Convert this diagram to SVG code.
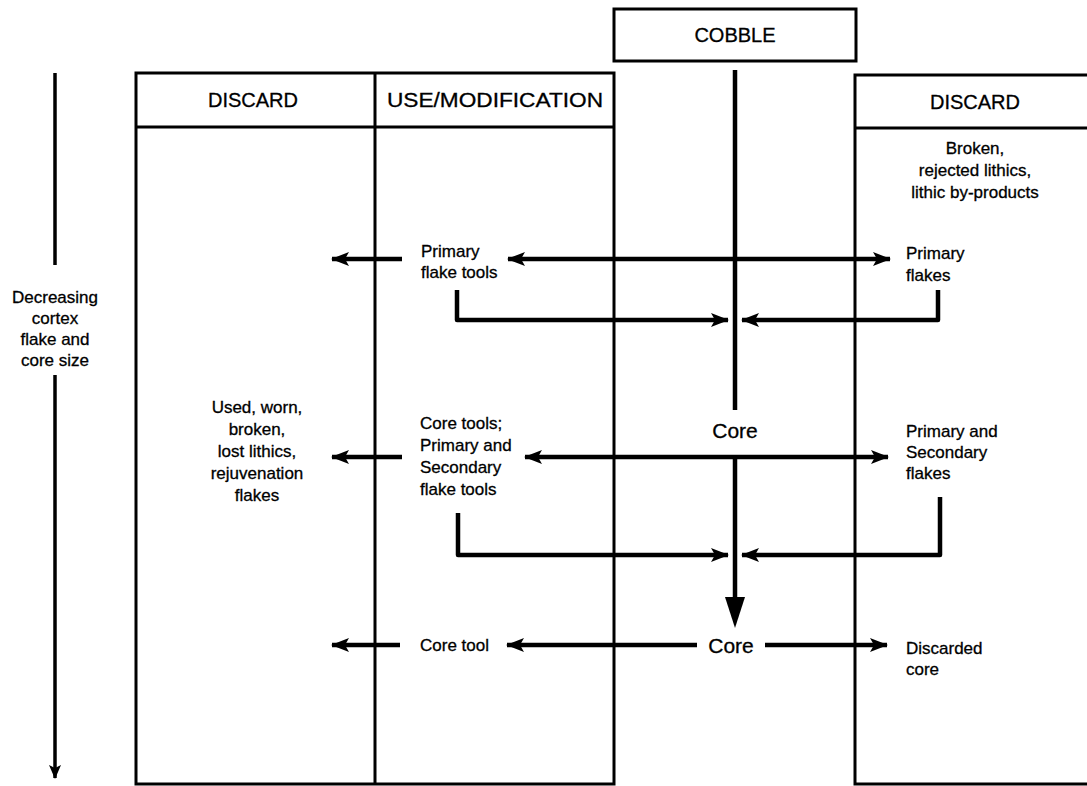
<svg xmlns="http://www.w3.org/2000/svg" width="1087" height="786" viewBox="0 0 1087 786">
<style>
.frame{fill:none;stroke:#000;stroke-width:3}
.ln{fill:none;stroke:#000;stroke-width:4.5;stroke-linejoin:round}
.t{font-family:"Liberation Sans",Arial,sans-serif;font-size:17px;fill:#000;stroke:#000;stroke-width:0.3}
.h{font-family:"Liberation Sans",Arial,sans-serif;font-size:20px;fill:#000;stroke:#000;stroke-width:0.3}
.c{font-family:"Liberation Sans",Arial,sans-serif;font-size:21px;fill:#000;stroke:#000;stroke-width:0.3}
.m{text-anchor:middle}
</style>
<defs>
<marker id="ah" markerUnits="userSpaceOnUse" markerWidth="18" markerHeight="14" refX="17" refY="7" orient="auto-start-reverse">
<path d="M0,0 L18,7 L0,14 L4,7 z" fill="#000"/>
</marker>
<marker id="ahs" markerUnits="userSpaceOnUse" markerWidth="14" markerHeight="12" refX="13" refY="6" orient="auto">
<path d="M0,0 L14,6 L0,12 L3,6 z" fill="#000"/>
</marker>
</defs>
<rect width="1087" height="786" fill="#fff"/>
<g id="cobble">
<rect class="frame" x="614" y="9" width="242" height="52"/>
<text class="h m" x="735" y="42">COBBLE</text>
</g>
<g id="left-table">
<rect class="frame" x="136" y="73" width="478" height="711"/>
<line class="frame" x1="136" y1="127" x2="614" y2="127"/>
<line class="frame" x1="375" y1="73" x2="375" y2="784"/>
<text class="h m" x="253" y="107">DISCARD</text>
<text class="h m" x="495" y="107" textLength="216" lengthAdjust="spacingAndGlyphs">USE/MODIFICATION</text>
</g>
<g id="right-table">
<path class="frame" d="M1090,75 H855 V784 H1090"/>
<line class="frame" x1="855" y1="128" x2="1090" y2="128"/>
<text class="h m" x="975" y="109">DISCARD</text>
<text class="t m" x="975" y="154">Broken,</text>
<text class="t m" x="975" y="176">rejected lithics,</text>
<text class="t m" x="975" y="198">lithic by-products</text>
</g>
<g id="axis">
<text class="t m" x="55" y="303">Decreasing</text>
<text class="t m" x="55" y="324">cortex</text>
<text class="t m" x="55" y="345">flake and</text>
<text class="t m" x="55" y="366">core size</text>
</g>
<g id="left-discard-text">
<text class="t m" x="257" y="413">Used, worn,</text>
<text class="t m" x="257" y="435">broken,</text>
<text class="t m" x="257" y="457">lost lithics,</text>
<text class="t m" x="257" y="479">rejuvenation</text>
<text class="t m" x="257" y="501">flakes</text>
</g>
<g id="primary-flake-tools">
<text class="t" x="421" y="257">Primary</text>
<text class="t" x="421" y="278">flake tools</text>
</g>
<g id="core-tools">
<text class="t" x="420" y="429">Core tools;</text>
<text class="t" x="420" y="451">Primary and</text>
<text class="t" x="420" y="473">Secondary</text>
<text class="t" x="420" y="495">flake tools</text>
</g>
<g id="core-tool">
<text class="t" x="420" y="651">Core tool</text>
</g>
<g id="primary-flakes">
<text class="t" x="906" y="259">Primary</text>
<text class="t" x="906" y="281">flakes</text>
</g>
<g id="primary-secondary-flakes">
<text class="t" x="906" y="437">Primary and</text>
<text class="t" x="906" y="458">Secondary</text>
<text class="t" x="906" y="479">flakes</text>
</g>
<g id="discarded-core">
<text class="t" x="906" y="654">Discarded</text>
<text class="t" x="906" y="675">core</text>
</g>
<g id="core1">
<text class="c m" x="735" y="438">Core</text>
</g>
<g id="core2">
<text class="c m" x="731" y="653">Core</text>
</g>
<g id="connectors">
<line class="ln" x1="55" y1="73" x2="55" y2="265" style="stroke-width:3.5"/>
<line class="ln" x1="55" y1="375" x2="55" y2="778" marker-end="url(#ahs)" style="stroke-width:3.5"/>
<line class="ln" x1="735" y1="70" x2="735" y2="410"/>
<line class="ln" x1="402" y1="259" x2="332" y2="259" marker-end="url(#ah)"/>
<line class="ln" x1="508" y1="259" x2="890" y2="259" marker-start="url(#ah)" marker-end="url(#ah)"/>
<path class="ln" d="M457,290 V320 H728" marker-end="url(#ah)"/>
<path class="ln" d="M938,290 V320 H742" marker-end="url(#ah)"/>
<line class="ln" x1="402" y1="457" x2="332" y2="457" marker-end="url(#ah)"/>
<line class="ln" x1="525" y1="457" x2="888" y2="457" marker-start="url(#ah)" marker-end="url(#ah)"/>
<line class="ln" x1="735" y1="457" x2="735" y2="605"/>
<path d="M725,597 L745,597 L735,628 z" fill="#000"/>
<path class="ln" d="M458,513 V555 H728" marker-end="url(#ah)"/>
<path class="ln" d="M940,497 V555 H742" marker-end="url(#ah)"/>
<line class="ln" x1="400" y1="645" x2="332" y2="645" marker-end="url(#ah)"/>
<line class="ln" x1="697" y1="645" x2="507" y2="645" marker-end="url(#ah)"/>
<line class="ln" x1="765" y1="645" x2="887" y2="645" marker-end="url(#ah)"/>
</g>
</svg>
